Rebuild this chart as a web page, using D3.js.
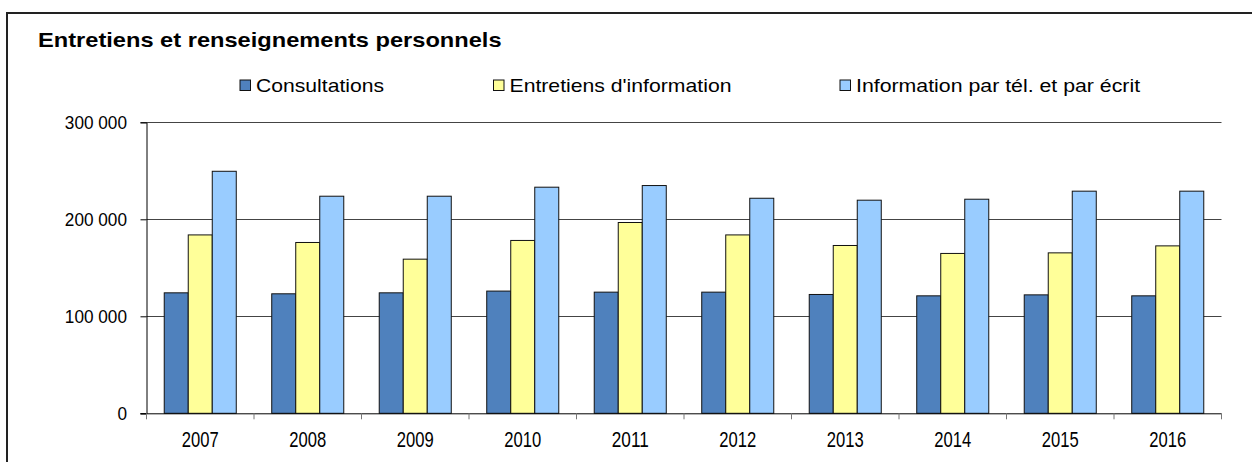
<!DOCTYPE html>
<html>
<head>
<meta charset="utf-8">
<script src="https://cdn.jsdelivr.net/npm/d3@7"></script>
<style>
  html, body { margin: 0; padding: 0; background: #fff; }
  svg { display: block; font-family: "Liberation Sans", Arial, sans-serif; }
</style>
</head>
<body>
<svg id="chart" width="1252" height="462"></svg>
<script>
const title = "Entretiens et renseignements personnels";
const years = ["2007","2008","2009","2010","2011","2012","2013","2014","2015","2016"];
const seriesNames = ["Consultations", "Entretiens d'information", "Information par tél. et par écrit"];
const consultations = [124200, 123200, 124200, 126000, 124900, 124900, 122500, 121100, 122100, 121100];
const entretiens    = [183900, 176100, 158900, 178200, 196700, 183900, 173000, 164800, 165400, 172600];
const information   = [249500, 223800, 223800, 233100, 234800, 221700, 219700, 220700, 229000, 229000];
const yTicks = [0, 100000, 200000, 300000];
const colors = ["#4F81BD", "#FFFF99", "#99CCFF"];

const seriesValues = [consultations, entretiens, information];
const svg = d3.select("#chart");

// horizontally scale a text element about its anchor so that it reaches a target width
function fitX(sel, x, yPos, targetW) {
  sel.each(function() {
    const w = this.getComputedTextLength();
    const sx = w > 0 ? targetW(this) / w : 1;
    d3.select(this).attr("x", 0).attr("y", 0)
      .attr("transform", `translate(${x(this)},${yPos(this)}) scale(${sx},1)`);
  });
}

// outer frame
svg.append("rect").attr("x", 7).attr("y", 13).attr("width", 1260).attr("height", 470)
  .attr("fill", "none").attr("stroke", "#222").attr("stroke-width", 2);

const margin = {left: 146.5, right: 1221.5, top: 122.3, bottom: 413.3};

const x0 = d3.scaleBand().domain(years).range([margin.left, margin.right])
  .paddingInner(0.33).paddingOuter(0.165);
const x1 = d3.scaleBand().domain(seriesNames).range([0, x0.bandwidth()]);
const y = d3.scaleLinear().domain([0, 300000]).range([margin.bottom, margin.top]);

const fmt = v => d3.format(",")(v).replace(/,/g, " ");

// gridlines
svg.append("g").selectAll("line").data(yTicks.filter(t => t > 0)).join("line")
  .attr("x1", margin.left).attr("x2", margin.right)
  .attr("y1", d => Math.round(y(d)) + 0.5).attr("y2", d => Math.round(y(d)) + 0.5)
  .attr("stroke", "#444").attr("stroke-width", 1);

// bars
const groups = svg.append("g").selectAll("g").data(years).join("g")
  .attr("transform", d => `translate(${x0(d)},0)`);
groups.selectAll("rect").data((d, i) => seriesNames.map((s, k) => ({s, v: seriesValues[k][i], k})))
  .join("rect")
  .attr("x", d => x1(d.s))
  .attr("width", x1.bandwidth())
  .attr("y", d => y(d.v))
  .attr("height", d => y(0) - y(d.v))
  .attr("fill", d => colors[d.k])
  .attr("stroke", "#111").attr("stroke-width", 1);

// y axis
const yAxis = d3.axisLeft(y).tickValues(yTicks).tickFormat("").tickSize(6);
const ya = svg.append("g").attr("transform", `translate(${margin.left},0)`).call(yAxis);
ya.select(".domain").attr("stroke", "#000");
ya.selectAll(".tick line").attr("stroke", "#000");
ya.selectAll(".tick text").remove();
const ylab = svg.append("g").selectAll("text").data(yTicks).join("text")
  .attr("text-anchor", "end").attr("font-size", 18.6).attr("fill", "#000")
  .text(d => fmt(d));
fitX(ylab, () => 127, el => y(d3.select(el).datum()) + 6.3, el => el.getComputedTextLength() * 0.925);

// x axis
const xa = svg.append("g").attr("transform", `translate(0,${margin.bottom})`);
xa.append("line").attr("x1", margin.left - 6).attr("x2", margin.right)
  .attr("y1", 0.5).attr("y2", 0.5).attr("stroke", "#000");
const bounds = years.map(d => x0(d) - x0.step() * x0.paddingOuter()).concat([margin.right]);
xa.selectAll("line.tk").data(bounds).join("line").attr("class", "tk")
  .attr("x1", d => d).attr("x2", d => d).attr("y1", 0).attr("y2", 6)
  .attr("stroke", "#777");
const xlab = xa.selectAll("text").data(years).join("text")
  .attr("text-anchor", "middle").attr("font-size", 22).attr("fill", "#000")
  .text(d => d);
fitX(xlab, el => x0(d3.select(el).datum()) + x0.bandwidth() / 2, () => 33.4, () => 37);

// title
const t = svg.append("text").attr("font-size", 19.5).attr("font-weight", "bold")
  .attr("fill", "#000").text(title);
fitX(t, () => 38, () => 46.7, () => 464);

// legend
const legendX = [239.5, 493, 839.5];
const legendW = [128, 222, 284];
const lg = svg.append("g").selectAll("g").data(seriesNames).join("g")
  .attr("transform", (d, i) => `translate(${legendX[i]},79.5)`);
lg.append("rect").attr("x", 0.5).attr("y", 0.5).attr("width", 10.5).attr("height", 10.5)
  .attr("fill", (d, i) => colors[i]).attr("stroke", "#111");
const ltxt = lg.append("text").attr("font-size", 17.7).attr("fill", "#000").text(d => d);
fitX(ltxt, () => 16.5, () => 12.3, el => legendW[seriesNames.indexOf(d3.select(el).datum())]);
</script>
</body>
</html>
